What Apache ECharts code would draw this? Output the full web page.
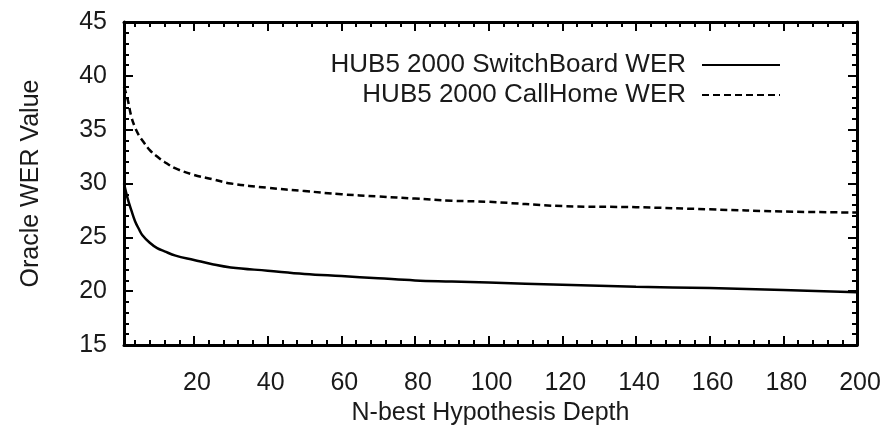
<!DOCTYPE html>
<html>
<head>
<meta charset="utf-8">
<script src="https://cdn.jsdelivr.net/npm/echarts@6.0.0/dist/echarts.min.js"></script>
<style>
  html, body { margin: 0; padding: 0; background: #fff; }
  #main { width: 885px; height: 425px; }
</style>
</head>
<body>
<div id="main"></div>
<script>
// N-best depth (x) and oracle WER
var depths = [1, 2, 3, 4, 5, 6, 8, 10, 12, 15, 20, 25, 30, 40, 50, 60, 70, 80, 90, 100, 120, 140, 160, 180, 200];
var switchboardWer = [30.0, 28.6, 27.5, 26.5, 25.8, 25.2, 24.5, 24.0, 23.7, 23.3, 22.9, 22.5, 22.2, 21.9, 21.6, 21.4, 21.2, 21.0, 20.9, 20.8, 20.6, 20.4, 20.3, 20.1, 19.9];
var callhomeWer = [39.0, 37.8, 36.2, 35.2, 34.5, 34.0, 33.1, 32.5, 32.0, 31.4, 30.8, 30.4, 30.0, 29.6, 29.3, 29.0, 28.8, 28.6, 28.4, 28.3, 27.9, 27.8, 27.6, 27.4, 27.3];
var seriesNames = ['HUB5 2000 SwitchBoard WER', 'HUB5 2000 CallHome WER'];
var xMajorTicks = [20, 40, 60, 80, 100, 120, 140, 160, 180, 200];
var xMinorTicks = [4, 8, 12, 16, 24, 28, 32, 36, 44, 48, 52, 56, 64, 68, 72, 76, 84, 88, 92, 96,
  104, 108, 112, 116, 124, 128, 132, 136, 144, 148, 152, 156, 164, 168, 172, 176, 184, 188, 192, 196];

var chart = echarts.init(document.getElementById('main'), null, { renderer: 'canvas' });

function pairs(xs, ys) {
  return xs.map(function (x, i) { return [x, ys[i]]; });
}

var font = 'Liberation Sans';
var ink = '#1a1a1a';
var fs = 25;

function xAxisOf(pos, ticks, len, showLine, showLabel) {
  return {
    type: 'value',
    position: pos,
    min: 1,
    max: 200,
    splitLine: { show: false },
    axisLine: { show: showLine, onZero: false, lineStyle: { color: '#000', width: 3 } },
    axisTick: { show: true, inside: true, length: len, customValues: ticks, lineStyle: { color: '#000', width: 2 } },
    axisLabel: {
      show: showLabel, customValues: ticks, margin: 26,
      padding: [0, 0, 0, 6],
      fontFamily: font, fontSize: fs, color: ink
    }
  };
}

var xAxes = [
  xAxisOf('bottom', xMajorTicks, 9, true, true),
  xAxisOf('bottom', xMinorTicks, 5, false, false),
  xAxisOf('top', xMajorTicks, 9, true, false),
  xAxisOf('top', xMinorTicks, 5, false, false)
];
xAxes[0].name = 'N-best Hypothesis Depth';
xAxes[0].nameLocation = 'middle';
xAxes[0].nameGap = 54;
xAxes[0].nameTextStyle = { fontFamily: font, fontSize: fs, color: ink };

function yAxisOf(pos, showLabel) {
  return {
    type: 'value',
    position: pos,
    min: 15,
    max: 45,
    interval: 5,
    splitLine: { show: false },
    axisLine: { show: true, onZero: false, lineStyle: { color: '#000', width: 3 } },
    axisTick: { show: true, inside: true, length: 9, lineStyle: { color: '#000', width: 2 } },
    minorTick: { show: true, splitNumber: 5, length: 5, lineStyle: { color: '#000', width: 2 } },
    axisLabel: { show: showLabel, margin: 17, fontFamily: font, fontSize: fs, color: ink }
  };
}

var yAxes = [yAxisOf('left', true), yAxisOf('right', false)];
yAxes[0].name = 'Oracle WER Value';
yAxes[0].nameLocation = 'middle';
yAxes[0].nameGap = 80;
yAxes[0].nameTextStyle = { fontFamily: font, fontSize: fs, color: ink };

function legendOf(name, top) {
  return {
    data: [name],
    right: 99,
    top: top,
    align: 'right',
    orient: 'vertical',
    itemWidth: 78,
    itemHeight: 14,
    selectedMode: false,
    itemStyle: { opacity: 0 },
    textStyle: { fontFamily: font, fontSize: 26, color: ink, padding: [0, 11, 0, 0] }
  };
}

var option = {
  animation: false,
  backgroundColor: '#fff',
  grid: { left: 124, right: 28, top: 22, bottom: 80, outerBoundsMode: 'none' },
  legend: [legendOf(seriesNames[0], 47), legendOf(seriesNames[1], 77)],
  xAxis: xAxes,
  yAxis: yAxes,
  series: [
    {
      name: seriesNames[0],
      type: 'line',
      xAxisIndex: 0,
      yAxisIndex: 0,
      smooth: 0.4,
      symbol: 'none',
      color: '#000',
      lineStyle: { color: '#000', width: 2.5 },
      data: pairs(depths, switchboardWer)
    },
    {
      name: seriesNames[1],
      type: 'line',
      xAxisIndex: 0,
      yAxisIndex: 0,
      smooth: 0.4,
      symbol: 'none',
      color: '#000',
      lineStyle: { color: '#000', width: 2.5, type: [7, 4] },
      data: pairs(depths, callhomeWer)
    }
  ]
};

chart.setOption(option);
</script>
</body>
</html>
